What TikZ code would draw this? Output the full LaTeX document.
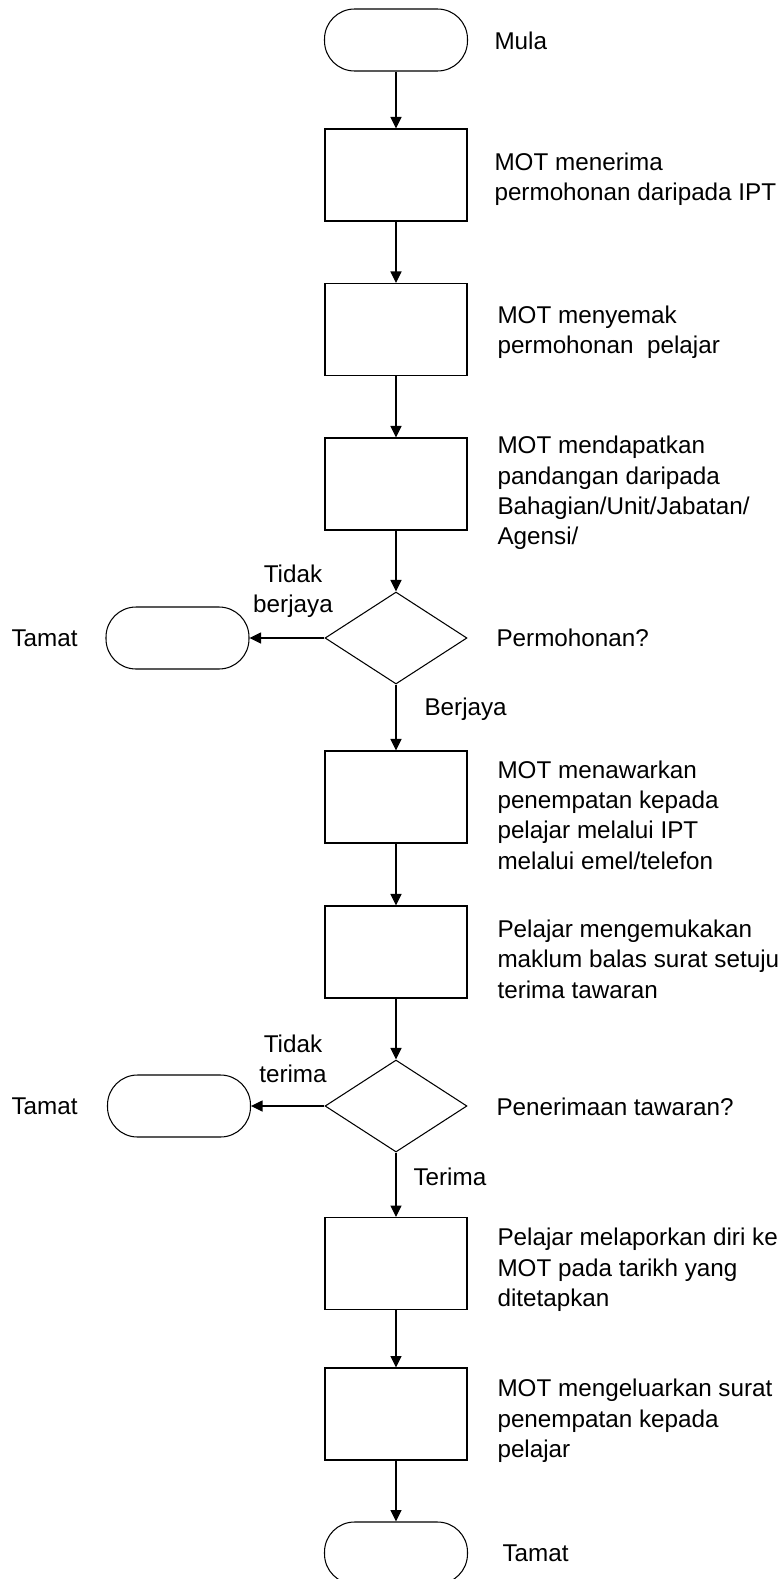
\documentclass[tikz,border=0pt]{standalone}
\usepackage{fontspec}
\setmainfont{Liberation Sans}
\usetikzlibrary{shapes.geometric,arrows.meta}

\begin{document}
\begin{tikzpicture}[x=0.02cm,y=-0.02cm,line width=0.6pt,
  proc/.style={draw,rectangle,minimum width=2.84cm,minimum height=1.84cm,inner sep=0pt},
  term/.style={draw,rectangle,rounded corners=0.6cm,minimum width=2.86cm,minimum height=1.24cm,inner sep=0pt},
  decide/.style={draw,diamond,aspect=1.54,minimum width=2.84cm,minimum height=1.84cm,inner sep=0pt},
  note/.style={anchor=west,align=left,inner sep=0pt,font=\fontsize{13.8pt}{17.3pt}\selectfont},
  side/.style={align=center,inner sep=0pt,font=\fontsize{13.8pt}{17.3pt}\selectfont},
  flow/.style={-{Triangle[length=0.23cm,width=0.22cm]}}]
\useasboundingbox (0,0) rectangle (781,1579);

% Main column
\node[term] (start) at (396,40) {};
\node[proc] (recv) at (396,175) {};
\node[proc] (check) at (396,329.5) {};
\node[proc] (views) at (396,484) {};
\node[decide] (apply) at (396,638) {};
\node[proc] (offer) at (396,797) {};
\node[proc] (reply) at (396,952) {};
\node[decide] (accept) at (396,1106) {};
\node[proc] (report) at (396,1263.5) {};
\node[proc] (letter) at (396,1414) {};
\node[term] (finish) at (396,1553) {};

% Side ends
\node[term] (stopA) at (177.5,638) {};
\node[term] (stopB) at (179,1106) {};

% Arrows
\draw[flow] (start) -- (recv);
\draw[flow] (recv) -- (check);
\draw[flow] (check) -- (views);
\draw[flow] (views) -- (apply);
\draw[flow] (apply) -- (offer);
\draw[flow] (offer) -- (reply);
\draw[flow] (reply) -- (accept);
\draw[flow] (accept) -- (report);
\draw[flow] (report) -- (letter);
\draw[flow] (letter) -- (finish);
\draw[flow] (apply) -- (stopA);
\draw[flow] (accept) -- (stopB);

% Texts on the right
\node[note] (tStart) at (494,41) {Mula};
\node[note] (tRecv) at (494,179) {MOT menerima\\permohonan daripada IPT};
\node[note] (tCheck) at (497,332) {MOT menyemak\\permohonan~ pelajar};
\node[note] (tViews) at (497,493) {MOT mendapatkan\\pandangan daripada\\Bahagian/Unit/Jabatan/\\Agensi/};
\node[note] (tApply) at (496,638) {Permohonan?};
\node[note] (tOffer) at (497,815) {MOT menawarkan\\penempatan kepada\\pelajar melalui IPT\\melalui emel/telefon};
\node[note] (tReply) at (497,959) {Pelajar mengemukakan\\maklum balas surat setuju\\terima tawaran};
\node[note] (tAccept) at (496,1107) {Penerimaan tawaran?};
\node[note] (tReport) at (497,1270) {Pelajar melaporkan diri ke\\MOT pada tarikh yang\\ditetapkan};
\node[note] (tLetter) at (497,1421) {MOT mengeluarkan surat\\penempatan kepada\\pelajar};
\node[note] (tFinish) at (502,1553) {Tamat};

% Texts on the left
\node[note] (tStopA) at (11,638) {Tamat};
\node[note] (tStopB) at (11,1106) {Tamat};
\node[side] (tNoA) at (293,591) {Tidak\\berjaya};
\node[side] (tNoB) at (293,1059) {Tidak\\terima};
\node[note] (tYesA) at (424,709) {Berjaya};
\node[note] (tYesB) at (413,1177) {Terima};

\end{tikzpicture}
\end{document}
